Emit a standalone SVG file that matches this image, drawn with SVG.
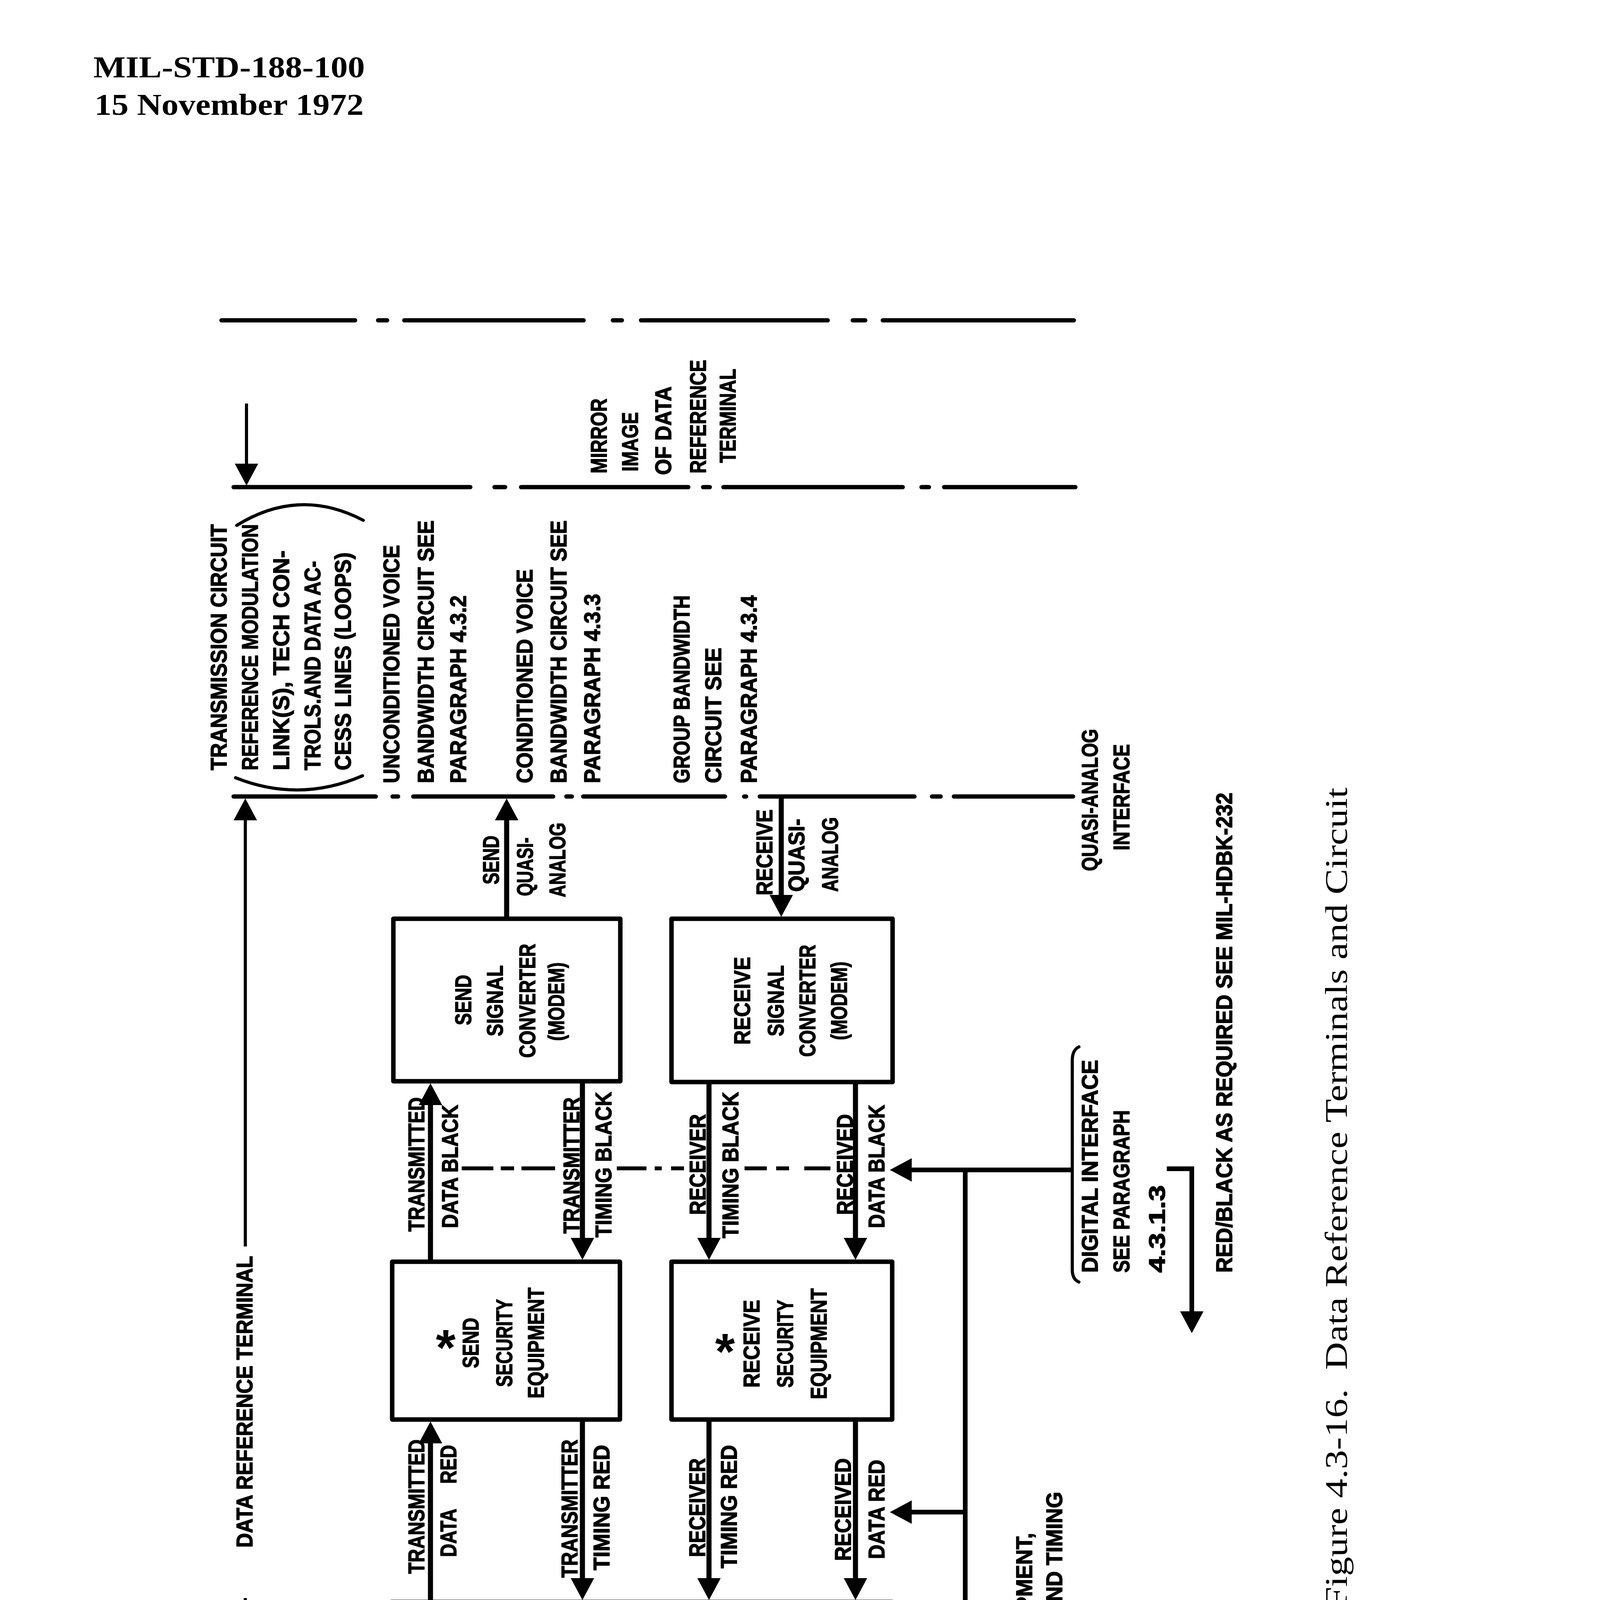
<svg xmlns="http://www.w3.org/2000/svg" width="4144" height="6096" viewBox="0 0 4144 6096">
<defs>
<style>
.bx{fill:none;stroke:#000;stroke-width:11.5;stroke-linejoin:round}
.cn{fill:none;stroke:#000;stroke-width:13}
.di{fill:none;stroke:#000;stroke-width:12}
.th{fill:none;stroke:#000;stroke-width:8}
.ds{fill:none;stroke:#000;stroke-width:11;stroke-linecap:round}
.dd{fill:none;stroke:#000;stroke-width:10}
.br{fill:none;stroke:#000;stroke-width:8;stroke-linecap:round}
.t{font-family:"Liberation Sans",Arial,sans-serif;font-weight:bold;font-size:58px;fill:#000;stroke:#000;stroke-width:1.8;stroke-linejoin:round}
.m{text-anchor:middle}
.ast{font-family:"Liberation Sans",Arial,sans-serif;font-weight:bold;font-size:130px;fill:#000;text-anchor:middle}
.s{font-family:"Liberation Serif","Times New Roman",serif;fill:#000}
</style>
<marker id="ah" viewBox="0 -30 56 60" markerWidth="56" markerHeight="60" refX="0" refY="0" orient="auto" markerUnits="userSpaceOnUse">
<path d="M0,-30 L56,0 L0,30 z" fill="#000"/>
</marker>
</defs>
<rect width="4144" height="6096" fill="#fff"/>

<g id="header">
<text class="s" x="239" y="198" font-size="78" font-weight="bold" textLength="695" lengthAdjust="spacingAndGlyphs">MIL-STD-188-100</text>
<text class="s" x="242" y="294" font-size="78" font-weight="bold" textLength="689" lengthAdjust="spacingAndGlyphs">15 November 1972</text>
</g>

<g id="boundaries">
<path class="ds" d="M567,820H909 M968,820H991 M1035,820H1494 M1569,820H1592 M1641,820H2119 M2183,820H2215 M2260,820H2749"/>
<path class="ds" d="M598,1247H1204 M1266,1247H1293 M1334,1247H1762 M1800,1247H1817 M1852,1247H2311 M2359,1247H2378 M2417,1247H2753"/>
<path class="ds" d="M598,2039H962 M1005,2039H1019 M1058,2039H1416 M1450,2039H1464 M1493,2039H1856 M1905,2039H1910 M1945,2039H2341 M2386,2039H2408 M2442,2039H2747"/>
</g>

<g id="transmission-circuit">
<path class="br" d="M606,1345 Q766,1246 930,1332"/>
<path class="br" d="M603,1991 Q766,2056 928,1986"/>
<g class="t" transform="rotate(-90)">
<text x="-1972" y="580" textLength="630" lengthAdjust="spacingAndGlyphs">TRANSMISSION CIRCUIT</text>
<text x="-1972" y="660" textLength="630" lengthAdjust="spacingAndGlyphs">REFERENCE MODULATION</text>
<text x="-1972" y="740" textLength="563" lengthAdjust="spacingAndGlyphs">LINK(S), TECH CON-</text>
<text x="-1972" y="820" textLength="536" lengthAdjust="spacingAndGlyphs">TROLS.AND DATA AC-</text>
<text x="-1972" y="898" textLength="558" lengthAdjust="spacingAndGlyphs">CESS LINES (LOOPS)</text>
<text x="-2005" y="1022" textLength="610" lengthAdjust="spacingAndGlyphs">UNCONDITIONED VOICE</text>
<text x="-2005" y="1110" textLength="673" lengthAdjust="spacingAndGlyphs">BANDWIDTH CIRCUIT SEE</text>
<text x="-2005" y="1193" textLength="481" lengthAdjust="spacingAndGlyphs">PARAGRAPH 4.3.2</text>
<text x="-2005" y="1363" textLength="548" lengthAdjust="spacingAndGlyphs">CONDITIONED VOICE</text>
<text x="-2005" y="1450" textLength="673" lengthAdjust="spacingAndGlyphs">BANDWIDTH CIRCUIT SEE</text>
<text x="-2005" y="1536" textLength="485" lengthAdjust="spacingAndGlyphs">PARAGRAPH 4.3.3</text>
<text x="-2005" y="1765" textLength="481" lengthAdjust="spacingAndGlyphs">GROUP BANDWIDTH</text>
<text x="-2005" y="1846" textLength="347" lengthAdjust="spacingAndGlyphs">CIRCUIT SEE</text>
<text x="-2005" y="1937" textLength="481" lengthAdjust="spacingAndGlyphs">PARAGRAPH 4.3.4</text>
</g>
</g>

<g id="mirror-image">
<g class="t" transform="rotate(-90)">
<text x="-1212" y="1553" textLength="192" lengthAdjust="spacingAndGlyphs">MIRROR</text>
<text x="-1207" y="1633" textLength="152" lengthAdjust="spacingAndGlyphs">IMAGE</text>
<text x="-1216" y="1718" textLength="227" lengthAdjust="spacingAndGlyphs">OF DATA</text>
<text x="-1212" y="1807" textLength="291" lengthAdjust="spacingAndGlyphs">REFERENCE</text>
<text x="-1185" y="1883" textLength="241" lengthAdjust="spacingAndGlyphs">TERMINAL</text>
</g>
</g>

<g id="send-signal-converter">
<rect class="bx" x="1007" y="2352" width="581" height="416"/>
<g class="t m" transform="rotate(-90)">
<text x="-2560" y="1206" textLength="129" lengthAdjust="spacingAndGlyphs">SEND</text>
<text x="-2562" y="1287" textLength="182" lengthAdjust="spacingAndGlyphs">SIGNAL</text>
<text x="-2562" y="1370" textLength="292" lengthAdjust="spacingAndGlyphs">CONVERTER</text>
<text x="-2564" y="1444" textLength="201" lengthAdjust="spacingAndGlyphs">(MODEM)</text>
</g>
</g>

<g id="receive-signal-converter">
<rect class="bx" x="1719" y="2352" width="566" height="418"/>
<g class="t m" transform="rotate(-90)">
<text x="-2562" y="1920" textLength="225" lengthAdjust="spacingAndGlyphs">RECEIVE</text>
<text x="-2562" y="2006" textLength="182" lengthAdjust="spacingAndGlyphs">SIGNAL</text>
<text x="-2562" y="2087" textLength="287" lengthAdjust="spacingAndGlyphs">CONVERTER</text>
<text x="-2562" y="2168" textLength="201" lengthAdjust="spacingAndGlyphs">(MODEM)</text>
</g>
</g>

<g id="send-security-equipment">
<rect class="bx" x="1004" y="3230" width="583" height="404"/>
<text class="ast" x="1141" y="3495">*</text>
<g class="t m" transform="rotate(-90)">
<text x="-3438" y="1225" textLength="129" lengthAdjust="spacingAndGlyphs">SEND</text>
<text x="-3438" y="1311" textLength="225" lengthAdjust="spacingAndGlyphs">SECURITY</text>
<text x="-3438" y="1392" textLength="284" lengthAdjust="spacingAndGlyphs">EQUIPMENT</text>
</g>
</g>

<g id="receive-security-equipment">
<rect class="bx" x="1719" y="3230" width="565" height="404"/>
<text class="ast" x="1856" y="3505">*</text>
<g class="t m" transform="rotate(-90)">
<text x="-3440" y="1944" textLength="225" lengthAdjust="spacingAndGlyphs">RECEIVE</text>
<text x="-3440" y="2030" textLength="225" lengthAdjust="spacingAndGlyphs">SECURITY</text>
<text x="-3440" y="2116" textLength="284" lengthAdjust="spacingAndGlyphs">EQUIPMENT</text>
</g>
</g>

<g id="control-unit">
<rect class="bx" x="1002" y="4101" width="1282" height="301"/>
<text class="ast" x="1550" y="4301">*</text>
<g class="t m" transform="rotate(-90)">
<text x="-4251" y="1646" textLength="225" lengthAdjust="spacingAndGlyphs">CONTROL</text>
<text x="-4254" y="1727" textLength="124" lengthAdjust="spacingAndGlyphs">UNIT</text>
</g>
</g>

<g id="digital-circuit-terminal">
<rect class="bx" x="999" y="4871" width="1284" height="308"/>
<g class="t m" transform="rotate(-90)">
<text x="-4953" y="1301" textLength="124" lengthAdjust="spacingAndGlyphs">SEND</text>
<text x="-5018" y="1531" textLength="225" lengthAdjust="spacingAndGlyphs">DIGITAL</text>
<text x="-5020" y="1612" textLength="225" lengthAdjust="spacingAndGlyphs">CIRCUIT</text>
<text x="-5035" y="1684" textLength="244" lengthAdjust="spacingAndGlyphs">TERMINAL</text>
<text x="-5036" y="1758" textLength="177" lengthAdjust="spacingAndGlyphs">(USER)</text>
<text x="-5017" y="2059" textLength="225" lengthAdjust="spacingAndGlyphs">RECEIVE</text>
</g>
</g>

<g id="connectors">
<path class="cn" marker-end="url(#ah)" d="M1102,3230V2829"/>
<path class="cn" marker-end="url(#ah)" d="M1491,2768V3169"/>
<path class="cn" marker-end="url(#ah)" d="M1815,2770V3169"/>
<path class="cn" marker-end="url(#ah)" d="M2190,2770V3169"/>
<path class="cn" marker-end="url(#ah)" d="M1102,4101V3695"/>
<path class="cn" marker-end="url(#ah)" d="M1491,3634V4040"/>
<path class="cn" marker-end="url(#ah)" d="M1815,3634V4040"/>
<path class="cn" marker-end="url(#ah)" d="M2190,3634V4040"/>
<path class="cn" marker-end="url(#ah)" d="M1101,4871V4463"/>
<path class="cn" marker-end="url(#ah)" d="M1489,4402V4810"/>
<path class="cn" marker-end="url(#ah)" d="M1814,4402V4810"/>
<path class="cn" marker-end="url(#ah)" d="M2189,4402V4810"/>
<path class="cn" marker-end="url(#ah)" d="M1297,2352V2100"/>
<path class="cn" marker-end="url(#ah)" d="M2000,2039V2291"/>
<path class="di" d="M2471,2995V4650"/>
<path class="di" marker-end="url(#ah)" d="M2745,2995H2334"/>
<path class="di" marker-end="url(#ah)" d="M2471,3871H2334"/>
<path class="di" marker-end="url(#ah)" d="M2471,4644H2334"/>
<path class="di" marker-end="url(#ah)" d="M2987,2992H3051V3357"/>
<path class="br" d="M2762,2680 Q2745,2688 2745,2715 V3250 Q2745,3275 2762,3282"/>
<path class="th" marker-end="url(#ah)" d="M628,3191V2100"/>
<path class="th" marker-end="url(#ah)" d="M628,4091V5118"/>
<path class="th" d="M567,5178H979"/>
<path class="th" marker-end="url(#ah)" d="M631,1033V1187"/>
<path class="dd" d="M1182,2991H1263 M1282,2991H1316 M1335,2991H1421 M1579,2991H1655 M1676,2991H1694 M1718,2991H1751 M1906,2991H1963 M1987,2991H2020 M2059,2991H2126"/>
</g>

<g id="connector-labels" class="t" transform="rotate(-90)">
<text x="-3153" y="1086" textLength="344" lengthAdjust="spacingAndGlyphs">TRANSMITTED</text>
<text x="-3144" y="1172" textLength="316" lengthAdjust="spacingAndGlyphs">DATA BLACK</text>
<text x="-3158" y="1483" textLength="349" lengthAdjust="spacingAndGlyphs">TRANSMITTER</text>
<text x="-3168" y="1565" textLength="373" lengthAdjust="spacingAndGlyphs">TIMING BLACK</text>
<text x="-3110" y="1806" textLength="258" lengthAdjust="spacingAndGlyphs">RECEIVER</text>
<text x="-3170" y="1890" textLength="375" lengthAdjust="spacingAndGlyphs">TIMING BLACK</text>
<text x="-3110" y="2183" textLength="258" lengthAdjust="spacingAndGlyphs">RECEIVED</text>
<text x="-3144" y="2264" textLength="316" lengthAdjust="spacingAndGlyphs">DATA BLACK</text>
<text x="-4029" y="1086" textLength="344" lengthAdjust="spacingAndGlyphs">TRANSMITTED</text>
<text x="-3986" y="1168" textLength="287" lengthAdjust="spacingAndGlyphs" xml:space="preserve">DATA     RED</text>
<text x="-4039" y="1478" textLength="354" lengthAdjust="spacingAndGlyphs">TRANSMITTER</text>
<text x="-4020" y="1560" textLength="321" lengthAdjust="spacingAndGlyphs">TIMING RED</text>
<text x="-3986" y="1805" textLength="253" lengthAdjust="spacingAndGlyphs">RECEIVER</text>
<text x="-4015" y="1886" textLength="316" lengthAdjust="spacingAndGlyphs">TIMING RED</text>
<text x="-3996" y="2178" textLength="263" lengthAdjust="spacingAndGlyphs">RECEIVED</text>
<text x="-3991" y="2264" textLength="254" lengthAdjust="spacingAndGlyphs">DATA RED</text>
<text x="-4814" y="1081" textLength="349" lengthAdjust="spacingAndGlyphs">TRANSMITTED</text>
<text x="-4771" y="1166" textLength="258" lengthAdjust="spacingAndGlyphs">DATA RED</text>
<text x="-4819" y="1474" textLength="354" lengthAdjust="spacingAndGlyphs">TRANSMITTER</text>
<text x="-4800" y="1560" textLength="320" lengthAdjust="spacingAndGlyphs">TIMING RED</text>
<text x="-4767" y="1800" textLength="259" lengthAdjust="spacingAndGlyphs">RECEIVER</text>
<text x="-4800" y="1886" textLength="320" lengthAdjust="spacingAndGlyphs">TIMING RED</text>
<text x="-4771" y="2178" textLength="258" lengthAdjust="spacingAndGlyphs">RECEIVED</text>
<text x="-4771" y="2262" textLength="258" lengthAdjust="spacingAndGlyphs">DATA RED</text>
<text x="-2264" y="1277" textLength="125" lengthAdjust="spacingAndGlyphs">SEND</text>
<text x="-2294" y="1364" textLength="150" lengthAdjust="spacingAndGlyphs">QUASI-</text>
<text x="-2297" y="1447" textLength="191" lengthAdjust="spacingAndGlyphs">ANALOG</text>
<text x="-2292" y="1977" textLength="220" lengthAdjust="spacingAndGlyphs">RECEIVE</text>
<text x="-2283" y="2059" textLength="187" lengthAdjust="spacingAndGlyphs">QUASI-</text>
<text x="-2283" y="2145" textLength="191" lengthAdjust="spacingAndGlyphs">ANALOG</text>
<text x="-3962" y="646" textLength="747" lengthAdjust="spacingAndGlyphs">DATA REFERENCE TERMINAL</text>
<text x="-2230" y="2810" textLength="364" lengthAdjust="spacingAndGlyphs">QUASI-ANALOG</text>
<text x="-2177" y="2891" textLength="272" lengthAdjust="spacingAndGlyphs">INTERFACE</text>
<text x="-3258" y="2810" textLength="545" lengthAdjust="spacingAndGlyphs">DIGITAL INTERFACE</text>
<text x="-3258" y="2891" textLength="416" lengthAdjust="spacingAndGlyphs">SEE PARAGRAPH</text>
<text x="-3258" y="2982" textLength="224" lengthAdjust="spacingAndGlyphs">4.3.1.3</text>
<text x="-3258" y="3154" textLength="1229" lengthAdjust="spacingAndGlyphs">RED/BLACK AS REQUIRED SEE MIL-HDBK-232</text>
</g>

<g id="note">
<text class="ast" x="2614" y="5091">*</text>
<g class="t" transform="rotate(-90)">
<text x="-4982" y="2642" textLength="1058" lengthAdjust="spacingAndGlyphs">CONTROL UNIT, SECURITY EQUIPMENT,</text>
<text x="-4982" y="2719" textLength="1163" lengthAdjust="spacingAndGlyphs">RED/BLACK CONSIDERATIONS, AND TIMING</text>
<text x="-4987" y="2805" textLength="848" lengthAdjust="spacingAndGlyphs">MAY BE OMITTED AS REQUIRED</text>
</g>
</g>

<g id="caption">
<text class="s" transform="rotate(-90)" x="-4117" y="3448" font-size="80" textLength="2101" lengthAdjust="spacingAndGlyphs" xml:space="preserve">Figure 4.3-16.  Data Reference Terminals and Circuit</text>
</g>

<g id="page-number">
<text class="s" x="1825" y="5782" font-size="80" text-anchor="middle">52</text>
</g>
</svg>
